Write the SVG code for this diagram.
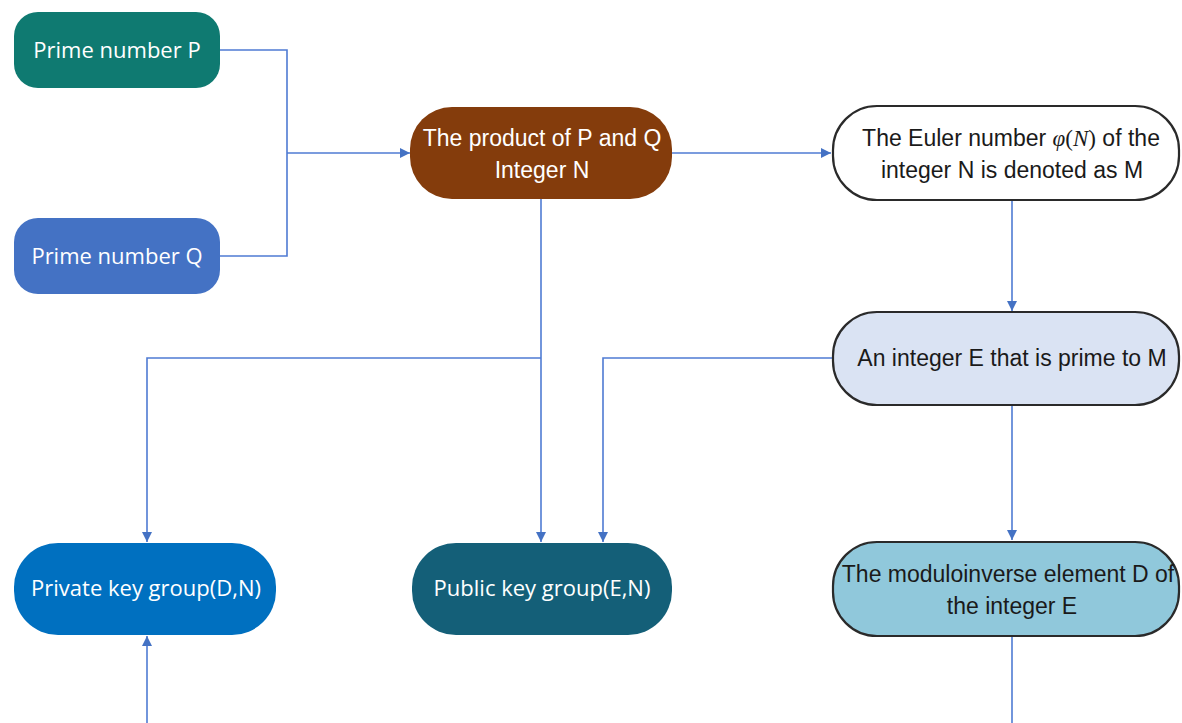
<svg xmlns="http://www.w3.org/2000/svg" width="1182" height="723" viewBox="0 0 1182 723">
<style>
.c{fill:none;stroke:#4f7bd3;stroke-width:1.6}
.w{fill:#ffffff}
.t{font-family:"Liberation Sans",Arial,sans-serif;font-size:23px;text-anchor:middle}
.o{font-family:"Open Sans","Liberation Sans",sans-serif;font-size:22px;text-anchor:middle}
.k{stroke:#2a2a2a;stroke-width:2.2}
</style>
<defs>
<marker id="a" viewBox="0 0 10 10" refX="10" refY="5" markerWidth="10" markerHeight="10" markerUnits="userSpaceOnUse" orient="auto">
<path d="M0,0 L10,5 L0,10 z" fill="#4472c4"/>
</marker>
</defs>
<rect width="1182" height="723" fill="#ffffff"/>
<g id="connectors">
<path class="c" d="M220,50 H287 V256 H220"/>
<path class="c" d="M287,153 H410" marker-end="url(#a)"/>
<path class="c" d="M672,153 H831" marker-end="url(#a)"/>
<path class="c" d="M1012,201 V311" marker-end="url(#a)"/>
<path class="c" d="M541,199 V542" marker-end="url(#a)"/>
<path class="c" d="M541,358 H147 V542" marker-end="url(#a)"/>
<path class="c" d="M832,358 H603 V542" marker-end="url(#a)"/>
<path class="c" d="M1012,406 V540" marker-end="url(#a)"/>
<path class="c" d="M1012,637 V723"/>
<path class="c" d="M147,723 V636" marker-end="url(#a)"/>
</g>
<g id="prime-p">
<rect x="14" y="12" width="206" height="76" rx="24" fill="#0f7a71"/>
<text class="o w" x="117" y="58">Prime number P</text>
</g>
<g id="prime-q">
<rect x="14" y="218" width="206" height="76" rx="24" fill="#4472c4"/>
<text class="o w" x="117" y="264">Prime number Q</text>
</g>
<g id="product">
<rect x="410" y="107" width="262" height="92" rx="42" fill="#843c0c"/>
<text class="t w" x="542" y="146">The product of P and Q</text>
<text class="t w" x="542" y="178">Integer N</text>
</g>
<g id="euler">
<rect x="833" y="106" width="346" height="94" rx="44" fill="#ffffff" class="k"/>
<text class="t" x="1011" y="146" fill="#1a1a1a">The Euler number <tspan font-family="'Liberation Serif',serif" font-style="italic">φ</tspan><tspan font-family="'Liberation Serif',serif">(</tspan><tspan font-family="'Liberation Serif',serif" font-style="italic">N</tspan><tspan font-family="'Liberation Serif',serif">)</tspan> of the</text>
<text class="t" x="1012" y="178" fill="#1a1a1a">integer N is denoted as M</text>
</g>
<g id="prime-e">
<rect x="833" y="312" width="346" height="93" rx="44" fill="#dae3f3" class="k"/>
<text class="t" x="1012" y="366" fill="#1a1a1a" font-size="24">An integer E that is prime to M</text>
</g>
<g id="private-key">
<rect x="14" y="543" width="262" height="92" rx="44" fill="#0070c0"/>
<text class="o w" x="146" y="596" font-size="23">Private key group(D,N)</text>
</g>
<g id="public-key">
<rect x="412" y="543" width="260" height="92" rx="44" fill="#145f78"/>
<text class="o w" x="542" y="596" font-size="23">Public key group(E,N)</text>
</g>
<g id="modulo-inverse">
<rect x="833" y="542" width="346" height="94" rx="44" fill="#90c8db" class="k"/>
<text class="t" x="1008" y="582" fill="#1a1a1a" font-size="24">The moduloinverse element D of</text>
<text class="t" x="1012" y="614" fill="#1a1a1a" font-size="24">the integer E</text>
</g>
</svg>
